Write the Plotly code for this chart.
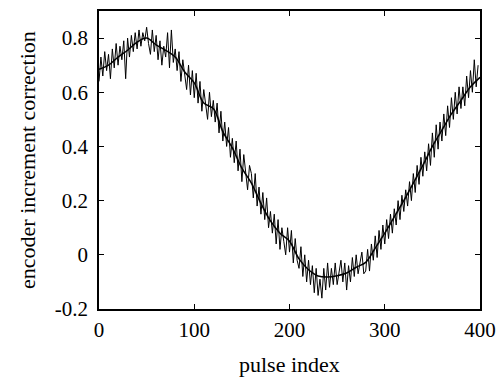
import plotly.graph_objects as go

# noisy measured correction, every 2nd pulse index
raw_x = list(range(0, 400, 2))
raw_y = [
    0.64, 0.73, 0.66, 0.75, 0.68, 0.74, 0.65, 0.76, 0.69, 0.78,
    0.70, 0.77, 0.72, 0.79, 0.65, 0.80, 0.73, 0.81, 0.75, 0.82,
    0.76, 0.83, 0.77, 0.82, 0.79, 0.84, 0.78, 0.74, 0.83, 0.75,
    0.81, 0.72, 0.79, 0.70, 0.77, 0.73, 0.82, 0.69, 0.83, 0.71,
    0.76, 0.68, 0.75, 0.64, 0.72, 0.67, 0.61, 0.70, 0.59, 0.68,
    0.58, 0.67, 0.56, 0.64, 0.53, 0.61, 0.55, 0.50, 0.60, 0.51,
    0.57, 0.49, 0.56, 0.45, 0.53, 0.42, 0.49, 0.40, 0.47, 0.36,
    0.43, 0.34, 0.42, 0.31, 0.39, 0.27, 0.37, 0.29, 0.24, 0.33,
    0.30, 0.21, 0.30, 0.18, 0.25, 0.15, 0.23, 0.13, 0.21, 0.10,
    0.16, 0.08, 0.15, 0.04, 0.13, 0.02, 0.10, 0.05, 0.00, 0.10,
    0.01, 0.09, -0.03, 0.06, -0.02, -0.05, 0.03, -0.08, 0.00, -0.10,
    -0.02, -0.11, -0.04, -0.14, -0.05, -0.15, -0.09, -0.16, -0.05, -0.13,
    -0.03, -0.12, -0.05, -0.11, -0.03, -0.11, -0.06, -0.02, -0.10, -0.03,
    -0.13, -0.04, -0.10, -0.01, -0.08, 0.00, -0.07, -0.02, 0.01, -0.07,
    -0.06, 0.02, -0.06, 0.04, -0.02, 0.07, -0.01, 0.09, 0.02, 0.11,
    0.04, 0.13, 0.06, 0.15, 0.08, 0.17, 0.11, 0.20, 0.13, 0.22,
    0.16, 0.24, 0.18, 0.27, 0.20, 0.30, 0.23, 0.33, 0.26, 0.36,
    0.29, 0.38, 0.31, 0.41, 0.33, 0.45, 0.36, 0.48, 0.39, 0.49,
    0.42, 0.52, 0.44, 0.55, 0.47, 0.58, 0.50, 0.60, 0.52, 0.62,
    0.54, 0.62, 0.55, 0.66, 0.58, 0.68, 0.60, 0.72, 0.62, 0.70,
]

# smoothed correction
smooth_x = list(range(0, 401, 10))
smooth_y = [
    0.685, 0.70, 0.73, 0.755, 0.785, 0.80, 0.775, 0.755, 0.73, 0.675,
    0.635, 0.56, 0.54, 0.455, 0.395, 0.32, 0.265, 0.19, 0.125, 0.08,
    0.05, -0.015, -0.055, -0.078, -0.082, -0.077, -0.067, -0.046, -0.028, 0.025,
    0.08, 0.14, 0.20, 0.265, 0.33, 0.40, 0.46, 0.52, 0.57, 0.62,
    0.655,
]

x_ticks = [0, 100, 200, 300, 400]
y_ticks = [-0.2, 0, 0.2, 0.4, 0.6, 0.8]
y_tick_text = ["-0.2", "0", "0.2", "0.4", "0.6", "0.8"]

FONT = "Liberation Serif"

fig = go.Figure()
fig.add_trace(go.Scatter(x=raw_x, y=raw_y, mode="lines",
                         line=dict(color="black", width=1), showlegend=False))
fig.add_trace(go.Scatter(x=smooth_x, y=smooth_y, mode="lines", line_shape="spline",
                         line=dict(color="black", width=1.5), showlegend=False))

axis_common = dict(showgrid=False, zeroline=False, showline=True, linecolor="black",
                   linewidth=1.5, mirror="ticks", ticks="inside", ticklen=5,
                   tickcolor="black", tickwidth=1, automargin=False,
                   tickfont=dict(family=FONT, size=21, color="black"))

fig.update_xaxes(range=[0, 400], tickvals=x_ticks, ticklabelstandoff=1, **axis_common)
fig.update_yaxes(range=[-0.2, 0.9], tickvals=y_ticks, ticktext=y_tick_text,
                 ticklabelstandoff=5, **axis_common)

fig.add_annotation(text="pulse index", xref="paper", yref="paper", x=0.5, y=-0.185,
                   xanchor="center", yanchor="middle", showarrow=False,
                   font=dict(family=FONT, size=22, color="black"))
fig.add_annotation(text="encoder increment correction", xref="paper", yref="paper",
                   x=-0.189, y=0.5, xanchor="center", yanchor="middle", textangle=-90,
                   showarrow=False, font=dict(family=FONT, size=22, color="black"))

fig.update_layout(width=498, height=383, margin=dict(l=99, r=18, t=11, b=74),
                  plot_bgcolor="white", paper_bgcolor="white")

fig.write_html("out.html")
